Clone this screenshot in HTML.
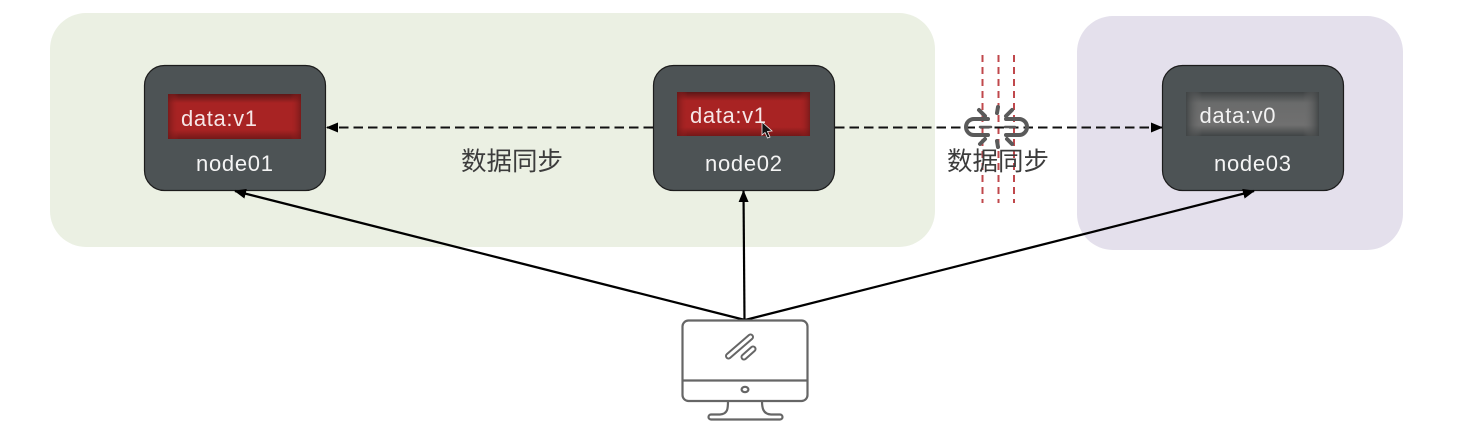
<!DOCTYPE html>
<html><head><meta charset="utf-8">
<style>
html,body{margin:0;padding:0;background:#fff}
svg{display:block}
text{font-family:"Liberation Sans","DejaVu Sans",sans-serif}
.cjk{font-family:"Liberation Sans","Noto Sans CJK SC",sans-serif;font-size:25.500px;fill:#3c3c3c}
.nd{font-size:22px;fill:#f4f4f4}
.dt{font-size:22px;fill:#f6e6e6}
</style></head>
<body>
<svg width="1461" height="442" viewBox="0 0 1461 442" xmlns="http://www.w3.org/2000/svg">
<defs>
<linearGradient id="rv" x1="0" y1="0" x2="0" y2="1">
<stop offset="0" stop-color="#5c1616"/><stop offset=".2" stop-color="#a82323"/><stop offset=".8" stop-color="#a82323"/><stop offset="1" stop-color="#741818"/>
</linearGradient>
<linearGradient id="rh" x1="0" y1="0" x2="1" y2="0">
<stop offset="0" stop-color="#6e1818" stop-opacity=".8"/><stop offset=".08" stop-color="#a82323" stop-opacity="0"/><stop offset=".92" stop-color="#a82323" stop-opacity="0"/><stop offset="1" stop-color="#6e1818" stop-opacity=".8"/>
</linearGradient>
<linearGradient id="gv" x1="0" y1="0" x2="0" y2="1">
<stop offset="0" stop-color="#3f4344"/><stop offset=".25" stop-color="#6a6b6b"/><stop offset=".75" stop-color="#707070"/><stop offset="1" stop-color="#404445"/>
</linearGradient>
<linearGradient id="gh" x1="0" y1="0" x2="1" y2="0">
<stop offset="0" stop-color="#404445" stop-opacity=".95"/><stop offset=".12" stop-color="#707070" stop-opacity="0"/><stop offset=".88" stop-color="#707070" stop-opacity="0"/><stop offset="1" stop-color="#404445" stop-opacity=".95"/>
</linearGradient>
<filter id="sh" x="-20%" y="-20%" width="140%" height="140%"><feGaussianBlur stdDeviation="2"/></filter>
<marker id="ah" viewBox="0 0 12 10" refX="11" refY="5" markerWidth="12" markerHeight="10" markerUnits="userSpaceOnUse" orient="auto"><path d="M0 0L12 5L0 10Z" fill="#000"/></marker>
</defs>

<rect x="50" y="13" width="885" height="234" rx="36" fill="#ebf0e3"/>
<rect x="1077" y="16" width="326" height="234" rx="36" fill="#e4e0ec"/>

<!-- red dashed cut lines -->
<g stroke="#c0484c" stroke-width="2" stroke-dasharray="7 5">
<line x1="982.500" y1="55" x2="982.500" y2="203"/>
<line x1="998.500" y1="55" x2="998.500" y2="203"/>
<line x1="1014" y1="55" x2="1014" y2="203"/>
</g>

<!-- dashed connectors -->
<g fill="none" stroke="#a8ad9e" stroke-width="2" stroke-dasharray="9 5" opacity=".6" filter="url(#sh)">
<line x1="653" y1="131" x2="330" y2="131"/>
<line x1="835" y1="131" x2="1158" y2="131"/>
</g>
<line x1="653" y1="127.500" x2="327" y2="127.500" stroke="#111" stroke-width="2" stroke-dasharray="9.500 5" marker-end="url(#ah)"/>
<line x1="835" y1="127.500" x2="1162" y2="127.500" stroke="#111" stroke-width="2" stroke-dasharray="9.500 5" marker-end="url(#ah)"/>

<!-- nodes -->
<g stroke="#1c1c1c" stroke-width="1.200" fill="#4d5355">
<rect x="144.500" y="65.500" width="181" height="125" rx="20"/>
<rect x="653.500" y="65.500" width="181" height="125" rx="20"/>
<rect x="1162.500" y="65.500" width="181" height="125" rx="20"/>
</g>

<rect x="168" y="94" width="133" height="45" fill="url(#rv)"/><rect x="168" y="94" width="133" height="45" fill="url(#rh)"/>
<rect x="677" y="92" width="133" height="44" fill="url(#rv)"/><rect x="677" y="92" width="133" height="44" fill="url(#rh)"/>
<rect x="1186" y="92" width="133" height="44" fill="url(#gv)"/><rect x="1186" y="92" width="133" height="44" fill="url(#gh)"/>

<text class="dt" x="181" y="126" textLength="76" lengthAdjust="spacing">data:v1</text>
<text class="dt" x="690" y="123" textLength="76" lengthAdjust="spacing">data:v1</text>
<text class="dt" x="1199.500" y="123" textLength="76" lengthAdjust="spacing" style="fill:#f2f2f2">data:v0</text>

<text class="nd" x="196" y="171" textLength="77" lengthAdjust="spacing">node01</text>
<text class="nd" x="705" y="171" textLength="77" lengthAdjust="spacing">node02</text>
<text class="nd" x="1214" y="171" textLength="77" lengthAdjust="spacing">node03</text>

<!-- cursor -->
<path d="M762 122L762 135L765 132.500L767.500 138L770 137L767.500 131.500L772 131Z" fill="#111" stroke="#eee" stroke-width=".8"/>

<!-- broken link icon -->
<g fill="none" stroke="#5a5a5a" stroke-width="4" stroke-linecap="round">
<path d="M988 119H974a8 8 0 0 0 0 16H988"/>
<path d="M1006 119H1019a8 8 0 0 1 0 16H1006"/>
<line x1="980" y1="127" x2="991" y2="127" stroke-width="2.500"/>
<line x1="1005" y1="127" x2="1015" y2="127" stroke-width="2.500"/>
<path d="M979 110L985 116M998 107L997 113M1012 110L1006 116M980 144L985 139M998 147L997 141M1012 144L1007 139"/>
</g>

<text class="cjk" x="461" y="170">数据同步</text>
<text class="cjk" x="947" y="170">数据同步</text>

<!-- solid arrows -->
<g stroke="#000" stroke-width="2.200" fill="none">
<line x1="745" y1="320" x2="235" y2="191" marker-end="url(#ah)"/>
<line x1="744.500" y1="320" x2="743.500" y2="191" marker-end="url(#ah)"/>
<line x1="745" y1="320" x2="1254" y2="191" marker-end="url(#ah)"/>
</g>

<!-- monitor -->
<g fill="none" stroke="#666" stroke-width="2.200">
<rect x="682.500" y="320.500" width="125" height="80.500" rx="6"/>
<line x1="682.500" y1="380.500" x2="807.500" y2="380.500"/>
<ellipse cx="745" cy="389.500" rx="3.400" ry="2.700"/>
<path d="M728 401C728 408 728 414 720 414.500H711a2.500 2.500 0 0 0 0 5H780a2.500 2.500 0 0 0 0-5H771C763 414 762 408 762 401"/>
</g>
<g fill="none" stroke-linecap="round">
<line x1="728.500" y1="356" x2="750.500" y2="337" stroke="#666" stroke-width="7"/>
<line x1="728.500" y1="356" x2="750.500" y2="337" stroke="#fff" stroke-width="3"/>
<line x1="744" y1="357" x2="753" y2="349" stroke="#666" stroke-width="7"/>
<line x1="744" y1="357" x2="753" y2="349" stroke="#fff" stroke-width="3"/>
</g>
</svg>
</body></html>
